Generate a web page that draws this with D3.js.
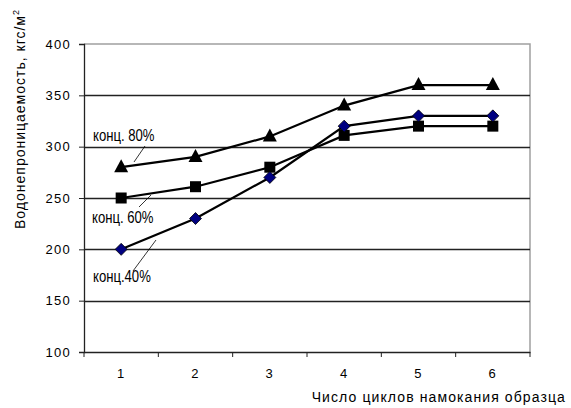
<!DOCTYPE html>
<meta charset="utf-8">
<style>
body { margin: 0; background: #fff; }
svg { font-family: "Liberation Sans", Arial, sans-serif; }
.tick text { font-size: 13px; fill: #000; letter-spacing: 1.3px; }
.lbl { font-size: 16px; }
</style>
<body>
<script src="https://d3js.org/d3.v7.min.js"></script>
<script>

// data
var cycles = ["1", "2", "3", "4", "5", "6"];
var conc80 = [280, 290, 310, 340, 360, 360];
var conc60 = [250, 261, 280, 311, 320, 320];
var conc40 = [200, 230, 270, 320, 330, 330];
var yTicks = [100, 150, 200, 250, 300, 350, 400];

var width = 571, height = 408;
var margin = {top: 44, right: 41, bottom: 56, left: 84};

var svg = d3.select("body").append("svg")
    .attr("width", width)
    .attr("height", height);

var x = d3.scaleBand()
    .domain(cycles)
    .range([margin.left, width - margin.right]);

var y = d3.scaleLinear()
    .domain([100, 400])
    .range([height - margin.bottom, margin.top]);

// plot border (gray top and right)
svg.append("path")
    .attr("d", "M" + x.range()[0] + "," + y(400) + "H" + x.range()[1] + "V" + y(100))
    .attr("fill", "none")
    .attr("stroke", "#a0a0a0")
    .attr("stroke-width", 1.5);

// gridlines
svg.append("g")
  .selectAll("line")
  .data(yTicks.filter(function(d) { return d > 100 && d < 400; }))
  .enter().append("line")
    .attr("x1", x.range()[0])
    .attr("x2", x.range()[1])
    .attr("y1", function(d) { return Math.round(y(d)) + 0.5; })
    .attr("y2", function(d) { return Math.round(y(d)) + 0.5; })
    .attr("stroke", "#222")
    .attr("stroke-width", 1.3);

// axes
svg.append("g")
    .attr("transform", "translate(" + x.range()[0] + ",0)")
    .call(d3.axisLeft(y).tickValues(yTicks).tickSize(5).tickPadding(8));

var xAxis = svg.append("g")
    .attr("transform", "translate(0," + y(100) + ")")
    .call(d3.axisBottom(x).tickSize(0).tickPadding(17));

// category boundary ticks
xAxis.selectAll(".edge")
  .data(d3.range(cycles.length + 1))
  .enter().append("line")
    .attr("x1", function(i) { return x.range()[0] + i * x.step(); })
    .attr("x2", function(i) { return x.range()[0] + i * x.step(); })
    .attr("y1", 0)
    .attr("y2", 5)
    .attr("stroke", "#222");

svg.selectAll(".domain").attr("stroke", "#222").attr("stroke-width", 1.3);
svg.selectAll(".tick line").attr("stroke", "#222");

// axis titles
svg.append("text")
    .attr("transform", "translate(25,119) rotate(-90)")
    .attr("text-anchor", "middle")
    .attr("font-size", 14)
    .attr("letter-spacing", 1)
    .text("Водонепроницаемость, кгс/м")
  .append("tspan")
    .attr("dy", -6)
    .attr("font-size", 9)
    .text("2");

svg.append("text")
    .attr("x", 566)
    .attr("y", 402)
    .attr("text-anchor", "end")
    .attr("font-size", 14)
    .attr("letter-spacing", 1.1)
    .text("Число циклов намокания образца");

var cx = function(d, i) { return x(cycles[i]) + x.bandwidth() / 2; };

var line = d3.line()
    .x(function(d, i) { return cx(d, i); })
    .y(function(d) { return y(d); });

[conc40, conc60, conc80].forEach(function(s) {
  svg.append("path")
      .datum(s)
      .attr("d", line)
      .attr("fill", "none")
      .attr("stroke", "#000")
      .attr("stroke-width", 2.2);
});

// markers
svg.append("g").selectAll("path")
  .data(conc80)
  .enter().append("path")
    .attr("transform", function(d, i) { return "translate(" + cx(d, i) + "," + y(d) + ")"; })
    .attr("d", "M0,-8L7,5L-7,5Z")
    .attr("fill", "#000");

svg.append("g").selectAll("rect")
  .data(conc60)
  .enter().append("rect")
    .attr("x", function(d, i) { return cx(d, i) - 5.5; })
    .attr("y", function(d) { return y(d) - 5.5; })
    .attr("width", 11)
    .attr("height", 11)
    .attr("fill", "#000");

svg.append("g").selectAll("path")
  .data(conc40)
  .enter().append("path")
    .attr("transform", function(d, i) { return "translate(" + cx(d, i) + "," + y(d) + ")"; })
    .attr("d", "M0,-6L6,0L0,6L-6,0Z")
    .attr("fill", "#000080")
    .attr("stroke", "#000")
    .attr("stroke-width", 0.8);

// series labels with leader lines (narrow font imitated by horizontal squeeze)
var labels = [
  {text: "конц. 80%", x: 93, y: 141, lx1: 134, ly1: 162, lx2: 145, ly2: 146},
  {text: "конц. 60%", x: 92, y: 223, lx1: 139, ly1: 207, lx2: 151, ly2: 195},
  {text: "конц.40%", x: 93, y: 282, lx1: 133, ly1: 271, lx2: 156, ly2: 240}
];

labels.forEach(function(l) {
  svg.append("line")
      .attr("x1", l.lx1).attr("y1", l.ly1)
      .attr("x2", l.lx2).attr("y2", l.ly2)
      .attr("stroke", "#000")
      .attr("stroke-width", 0.8);
  svg.append("text")
      .attr("class", "lbl")
      .attr("transform", "translate(" + l.x + "," + l.y + ") scale(0.82,1)")
      .text(l.text);
});

</script>
</body>
